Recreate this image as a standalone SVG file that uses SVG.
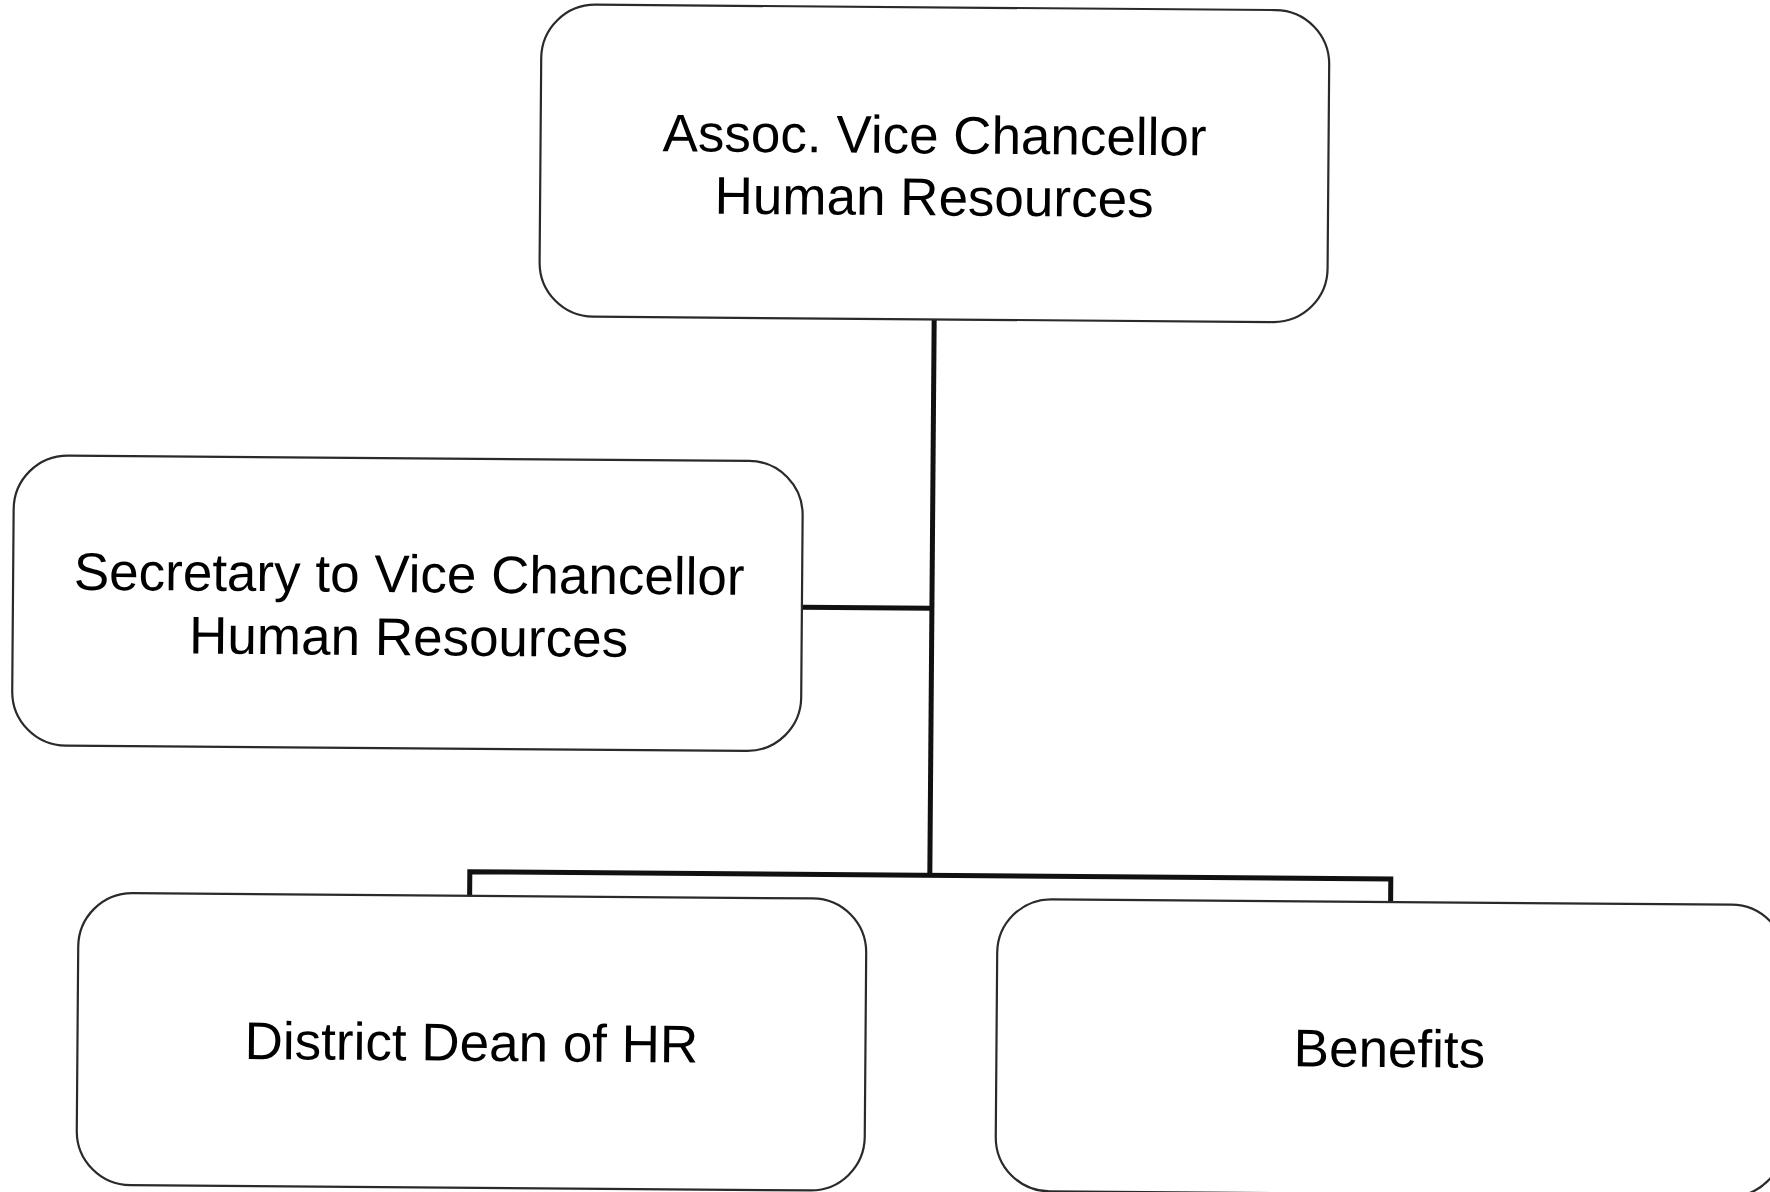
<svg xmlns="http://www.w3.org/2000/svg" width="1770" height="1192" viewBox="0 0 1770 1192">
<style>
.box{fill:#fff;stroke:#2a2a2a;stroke-width:2.2}
.lbl{font-family:"Liberation Sans",Arial,sans-serif;font-size:53px;fill:#000;text-anchor:middle}
.conn{fill:none;stroke:#111;stroke-width:5;stroke-linejoin:miter}
</style>
<rect width="1770" height="1192" fill="#fff"/>
<g transform="rotate(0.45 885 596)">
<g id="connectors">
<path class="conn" d="M932 319 V875"/>
<path class="conn" d="M802 608 H932"/>
<path class="conn" d="M472 899 V875 H1393 V898"/>
</g>
<g id="node-avc">
<rect class="box" x="537" y="7" width="788" height="312" rx="54" ry="54"/>
<text class="lbl" x="931" y="153">Assoc. Vice Chancellor</text>
<text class="lbl" x="931" y="215">Human Resources</text>
</g>
<g id="node-secretary">
<rect class="box" x="13" y="462" width="789" height="290" rx="54" ry="54"/>
<text class="lbl" x="409" y="596">Secretary to Vice Chancellor</text>
<text class="lbl" x="409" y="659">Human Resources</text>
</g>
<g id="node-dean">
<rect class="box" x="81" y="899" width="788" height="292" rx="54" ry="54"/>
<text class="lbl" x="475" y="1064">District Dean of HR</text>
</g>
<g id="node-benefits">
<rect class="box" x="1000" y="898" width="788" height="292" rx="54" ry="54"/>
<text class="lbl" x="1393" y="1063">Benefits</text>
</g>
</g>
</svg>
